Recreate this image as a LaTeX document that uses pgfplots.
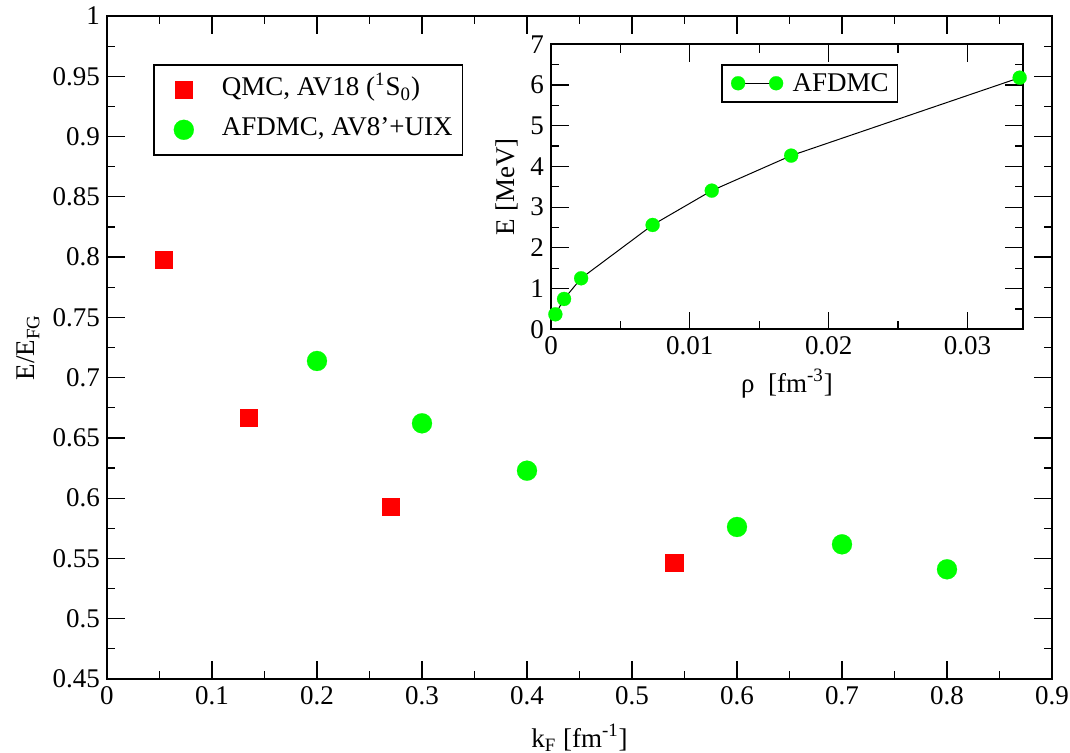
\documentclass[border=0pt]{standalone}
\usepackage{fontspec}
\setmainfont{Liberation Serif}
\usepackage{pgfplots}
\pgfplotsset{compat=1.18}
\definecolor{xred}{RGB}{255,0,0}
\definecolor{xgreen}{RGB}{0,255,0}
\pgfplotsset{
  mainleg/.style={legend image code/.code={\path[draw=none,fill=none] (0pt,0pt) -- (29pt,0pt); \draw[##1] plot coordinates {(10pt,0pt)};}},
  insetleg/.style={legend image code/.code={\path[draw=none,fill=none] (0pt,0pt) -- (30.9pt,0pt); \draw[##1] plot coordinates {(3.7pt,0pt) (22.7pt,0pt)};}},
}
\begin{document}
\begin{tikzpicture}[font=\rmfamily\fontsize{13.5}{16}\selectfont]
\pgfplotsset{
  every axis/.append style={
    scale only axis,
    axis line style={line width=0.85pt},
    every tick/.style={black, line width=0.6pt},
    tick align=inside,
    major tick length=8.85pt,
    minor tick length=4.15pt,
    tick label style={font=\rmfamily\fontsize{13.5}{16}\selectfont},
    label style={font=\rmfamily\fontsize{13.5}{16}\selectfont},
    xticklabel={\rmfamily\pgfmathprintnumber[fixed,precision=2,assume math mode=true]{\tick}},
    yticklabel={\rmfamily\pgfmathprintnumber[fixed,precision=2,assume math mode=true]{\tick}},
    legend cell align=left,
  }
}
\begin{axis}[
  name=main,
  width=472.5pt, height=331.5pt,
  xmin=0, xmax=0.9, ymin=0.45, ymax=1,
  xtick={0,0.1,0.2,0.3,0.4,0.5,0.6,0.7,0.8,0.9},
  ytick={0.45,0.5,0.55,0.6,0.65,0.7,0.75,0.8,0.85,0.9,0.95,1},
  minor x tick num=1, minor y tick num=1,
  xlabel={k\textsubscript{F} [fm\textsuperscript{-1}]},
  ylabel={E/E\textsubscript{FG}},
  xlabel style={at={(axis description cs:0.5,-0.1026)}, anchor=base},
  ylabel style={at={(axis description cs:-0.0762,0.5)}, anchor=base},
  legend style={at={(0.0487,0.9276)}, anchor=north west, draw=black, line width=0.8pt,
    font=\rmfamily\fontsize{13.5}{16}\selectfont, inner xsep=5pt, inner ysep=5.5pt, row sep=6pt,
    nodes={inner sep=0pt, text height=10pt, text depth=4pt}},
]
\addplot[only marks, mark=square*, mark size=4.3pt, color=xred, line width=0.1pt, mainleg] coordinates {
  (0.054,0.7976) (0.135,0.6668) (0.270,0.5929) (0.540,0.5468)
};
\addlegendentry{QMC, AV18 (\textsuperscript{1}S\textsubscript{0})}
\addplot[only marks, mark=*, mark size=5pt, color=xgreen, line width=0.1pt, mainleg] coordinates {
  (0.2,0.7138) (0.3,0.6621) (0.4,0.6228) (0.6,0.5761) (0.7,0.5617) (0.8,0.541)
};
\addlegendentry{AFDMC, AV8’+UIX}
\end{axis}
\begin{axis}[
  at={(222pt,174.85pt)}, anchor=south west,
  width=236pt, height=142.5pt,
  xmin=0, xmax=0.034, ymin=0, ymax=7,
  xtick={0,0.01,0.02,0.03},
  ytick={0,1,2,3,4,5,6,7},
  minor x tick num=1, minor y tick num=1,
  scaled x ticks=false,
  axis background/.style={fill=white},
  xlabel={ρ\ \ [fm\textsuperscript{-3}]},
  ylabel={E [MeV]},
  xlabel style={at={(axis description cs:0.5,-0.221)}, anchor=base},
  ylabel style={at={(axis description cs:-0.078,0.5)}, anchor=base},
  legend style={at={(0.36,0.931)}, anchor=north west, draw=black, line width=0.8pt,
    font=\rmfamily\fontsize{13.5}{16}\selectfont, inner xsep=4.5pt, inner ysep=3.5pt,
    nodes={inner sep=0pt, text height=10pt, text depth=1.5pt}},
]
\addplot[color=black, line width=0.5pt, mark=*, mark size=3.5pt, mark options={xgreen, fill=xgreen, line width=0.1pt}, insetleg] coordinates {
  (0.000314,0.368) (0.00094,0.745) (0.00217,1.253) (0.00732,2.563) (0.01158,3.406) (0.0173,4.266) (0.03376,6.18)
};
\addlegendentry{AFDMC}
\end{axis}
\pgfresetboundingbox
\useasboundingbox ([xshift=-53.5pt,yshift=-37pt]main.south west) rectangle ([xshift=9pt,yshift=8pt]main.north east);
\end{tikzpicture}
\end{document}
